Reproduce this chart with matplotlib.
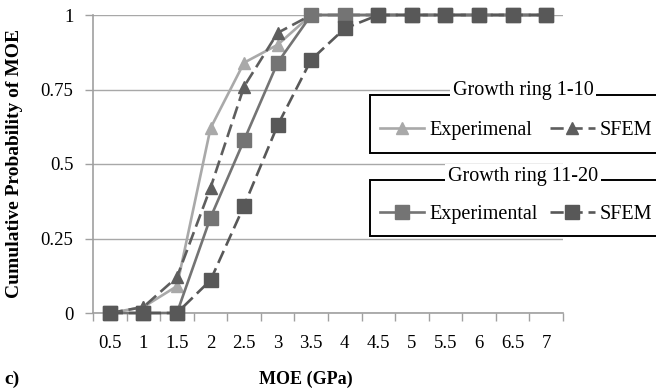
import numpy as np
import matplotlib
matplotlib.use('Agg')
import matplotlib.pyplot as plt
from matplotlib.patches import Rectangle

plt.rcParams['font.family'] = ['Liberation Serif', 'DejaVu Serif']

# data
moe = ['0.5', '1', '1.5', '2', '2.5', '3', '3.5', '4', '4.5', '5',
       '5.5', '6', '6.5', '7']
exp_1_10 = [0, 0.02, 0.09, 0.62, 0.84, 0.90, 1, 1, 1, 1, 1, 1, 1, 1]
sfem_1_10 = [0, 0.02, 0.12, 0.42, 0.76, 0.94, 1, 1, 1, 1, 1, 1, 1, 1]
exp_11_20 = [0, 0, 0, 0.32, 0.58, 0.84, 1, 1, 1, 1, 1, 1, 1, 1]
sfem_11_20 = [0, 0, 0, 0.11, 0.36, 0.63, 0.85, 0.955, 1, 1, 1, 1, 1, 1]
yticks = [0, 0.25, 0.5, 0.75, 1]
ytick_labels = ['0', '0.25', '0.5', '0.75', '1']

W, H = 656, 389
fig = plt.figure(figsize=(W / 100, H / 100), dpi=100)
ax = fig.add_axes([93 / W, 1 - 313 / H, 470 / W, 298 / H])

x = np.arange(len(moe))
c_light = '#a9a9a9'
c_dtri = '#5e5e5e'
c_sq = '#747474'
c_dsq = '#585858'
dash = (0, (5, 2.2))

l1, = ax.plot(x, exp_1_10, color=c_light, lw=1.9, marker='^', ms=9,
              clip_on=False, zorder=3)
l2, = ax.plot(x, sfem_1_10, color=c_dtri, lw=1.9, ls=dash, marker='^', ms=9,
              clip_on=False, zorder=4)
l3, = ax.plot(x, exp_11_20, color=c_sq, lw=1.9, marker='s', ms=10,
              clip_on=False, zorder=5)
l4, = ax.plot(x, sfem_11_20, color=c_dsq, lw=1.9, ls=dash, marker='s', ms=10,
              clip_on=False, zorder=6)

ax.set_xlim(-0.5, len(moe) - 0.5)
ax.set_ylim(0, 1)
ax.set_xticks(x)
ax.set_xticklabels(moe, fontsize=13.5)
ax.set_xticks(np.arange(len(moe) + 1) - 0.5, minor=True)
ax.tick_params(axis='x', which='major', length=0, pad=16)
ax.tick_params(axis='x', which='minor', length=6, color='#a0a0a0', width=1)
ax.set_yticks(yticks)
ax.set_yticklabels(ytick_labels, fontsize=13.5)
ax.tick_params(axis='y', length=6, color='#a0a0a0', width=1, pad=8)
ax.grid(axis='y', color='#a8a8a8', lw=1)
ax.set_axisbelow(True)
for s in ['top', 'right']:
    ax.spines[s].set_visible(False)
for s in ['left', 'bottom']:
    ax.spines[s].set_color('#a0a0a0')
    ax.spines[s].set_linewidth(1.2)

fig.text(306 / W, 1 - 379 / H, 'MOE (GPa)', fontsize=13, fontweight='bold',
         ha='center', va='center')
ax.set_ylabel('Cumulative Probability of MOE', fontsize=14,
              fontweight='bold')
ax.yaxis.set_label_coords((23 - 93) / 470, 0.5)

fig.text(4 / W, 1 - 379 / H, 'c)', fontsize=14, fontweight='bold',
         va='center')


# legend boxes with titles sitting on the top border
def fx(px):
    return px / W


def fy(py):
    return 1 - py / H


for top, bot, title, handles, labels, colsp in [
        (95, 153, 'Growth ring 1-10', [l1, l2], ['Experimenal', 'SFEM'], 0.9),
        (180, 236, 'Growth ring 11-20', [l3, l4], ['Experimental', 'SFEM'],
         0.62)]:
    fig.add_artist(Rectangle((fx(370), fy(bot)), fx(400), (bot - top) / H,
                             transform=fig.transFigure, facecolor='white',
                             edgecolor='black', lw=1.4, zorder=10))
    fig.text(fx(523), fy(top - 4), title, fontsize=14.5, ha='center',
             va='center', zorder=12,
             bbox=dict(facecolor='white', edgecolor='none', pad=2))
    leg = fig.legend(handles, labels, loc='center left',
                     bbox_to_anchor=(fx(380), fy((top + bot) / 2 + 6)),
                     ncol=2, frameon=False, fontsize=14.5,
                     handlelength=2.2, handletextpad=0.25,
                     columnspacing=colsp, borderpad=0, borderaxespad=0)
    leg.set_zorder(13)

fig.savefig('out.png', dpi=100)
